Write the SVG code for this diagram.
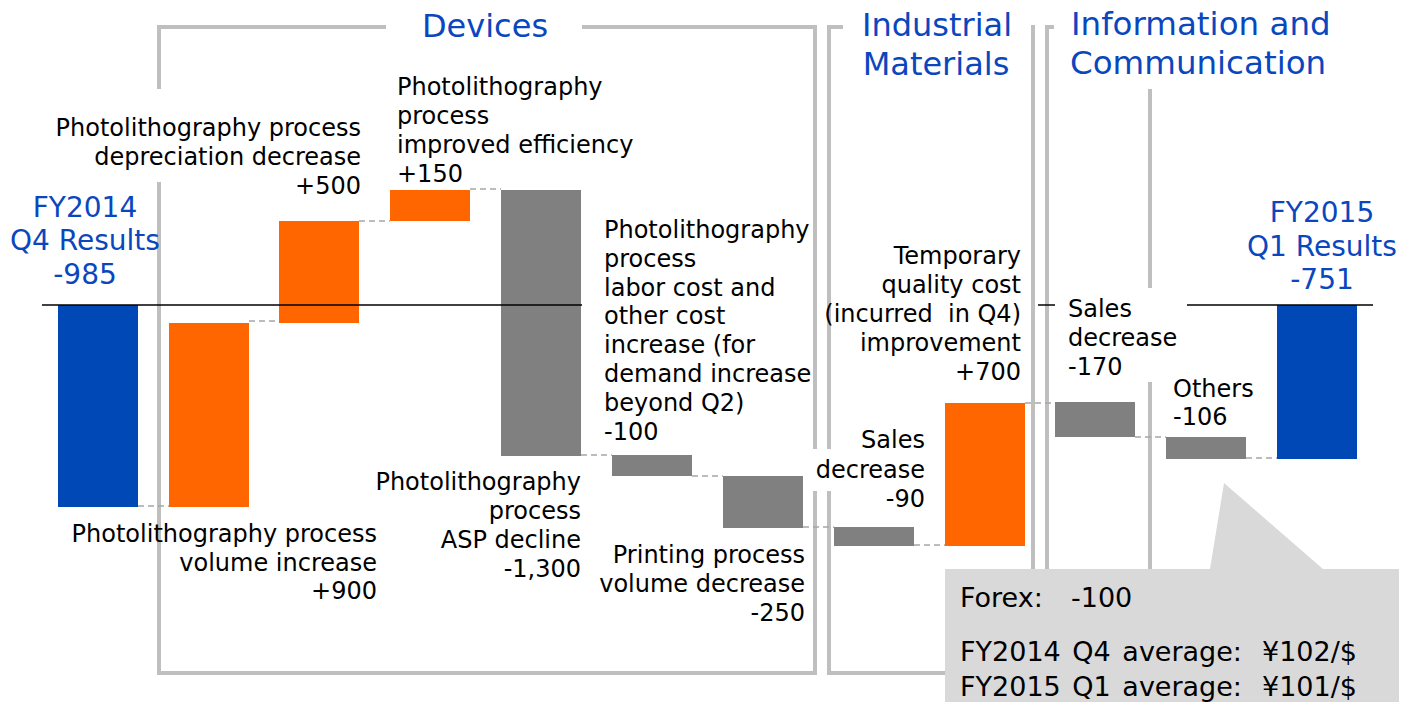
<svg xmlns="http://www.w3.org/2000/svg" width="1415" height="702" viewBox="0 0 1415 702">
<style>
text{font-family:'DejaVu Sans',Verdana,sans-serif;fill:#000;white-space:pre}
.t{font-size:24px}
.e{text-anchor:end}
.m{text-anchor:middle}
.h{font-size:32px;fill:#0A47BE}
.r{font-size:28px;fill:#0A47BE}
.c{font-size:27px}
.br{fill:none;stroke:#BFBFBF;stroke-width:4}
.dash{stroke:#A6A6A6;stroke-width:1.6;stroke-dasharray:6 4;fill:none}
.blue{fill:#0048B5}
.org{fill:#FF6600}
.gry{fill:#808080}
</style>
<rect width="1415" height="702" fill="#fff"/>
<g id="brackets">
<path class="br" d="M386,27 H159 V89"/>
<path class="br" d="M159,182 V673 H815 V491"/>
<path class="br" d="M815,449 V27 H582"/>
<path class="br" d="M843,27 H829 V449"/>
<path class="br" d="M829,491 V673 H945"/>
<path class="br" d="M1033,25 V569"/>
<path class="br" d="M1054,27 H1047 V569"/>
<path class="br" d="M1150,89 V288"/>
<path class="br" d="M1150,382 V569"/>
</g>
<g id="headings">
<text class="h m" x="485" y="37">Devices</text>
<text class="h m" x="937" y="36">Industrial</text>
<text class="h m" x="936" y="75">Materials</text>
<text class="h" x="1071" y="35" style="font-size:32.5px">Information and</text>
<text class="h" x="1070" y="74" style="font-size:32.5px">Communication</text>
</g>
<g id="bars">
<g id="fy2014"><rect class="blue" x="58" y="305" width="80" height="202"/>
<text class="r m" x="85" y="217">FY2014</text><text class="r m" x="85" y="250">Q4 Results</text><text class="r m" x="85" y="284">-985</text></g>
<g id="volume-increase"><rect class="org" x="169" y="323" width="80" height="184"/>
<text class="t e" x="377" y="542">Photolithography process</text><text class="t e" x="377" y="571">volume increase</text><text class="t e" x="377" y="599">+900</text></g>
<g id="depreciation"><rect class="org" x="279" y="221" width="80" height="102"/>
<text class="t e" x="361" y="136">Photolithography process</text><text class="t e" x="361" y="165">depreciation decrease</text><text class="t e" x="361" y="194">+500</text></g>
<g id="efficiency"><rect class="org" x="390" y="190" width="80" height="31"/>
<text class="t" x="397" y="95">Photolithography</text><text class="t" x="397" y="124">process</text><text class="t" x="397" y="153">improved efficiency</text><text class="t" x="397" y="182">+150</text></g>
<g id="asp-decline"><rect class="gry" x="501" y="190" width="80" height="266"/>
<text class="t e" x="581" y="490">Photolithography</text><text class="t e" x="581" y="519">process</text><text class="t e" x="581" y="548">ASP decline</text><text class="t e" x="581" y="577">-1,300</text></g>
<g id="labor-cost"><rect class="gry" x="612" y="455" width="80" height="21"/>
<text class="t" x="604" y="238">Photolithography</text><text class="t" x="604" y="267">process</text><text class="t" x="604" y="296">labor cost and</text><text class="t" x="604" y="324">other cost</text><text class="t" x="604" y="353">increase (for</text><text class="t" x="604" y="382">demand increase</text><text class="t" x="604" y="411">beyond Q2)</text><text class="t" x="604" y="440">-100</text></g>
<g id="printing"><rect class="gry" x="723" y="476" width="80" height="52"/>
<text class="t e" x="805" y="563">Printing process</text><text class="t e" x="805" y="592">volume decrease</text><text class="t e" x="805" y="621">-250</text></g>
<g id="im-sales"><rect class="gry" x="834" y="527" width="80" height="19"/>
<text class="t e" x="925" y="448">Sales</text><text class="t e" x="925" y="478">decrease</text><text class="t e" x="925" y="507">-90</text></g>
<g id="quality-cost"><rect class="org" x="945" y="403" width="80" height="143"/>
<text class="t e" x="1021" y="264">Temporary</text><text class="t e" x="1021" y="293">quality cost</text><text class="t e" x="1021" y="322">(incurred  in Q4)</text><text class="t e" x="1021" y="351">improvement</text><text class="t e" x="1021" y="380">+700</text></g>
<g id="ic-sales"><rect class="gry" x="1055" y="402" width="80" height="35"/>
<text class="t" x="1068" y="317">Sales</text><text class="t" x="1068" y="346">decrease</text><text class="t" x="1068" y="375">-170</text></g>
<g id="others"><rect class="gry" x="1166" y="437" width="80" height="22"/>
<text class="t" x="1173" y="397">Others</text><text class="t" x="1173" y="425">-106</text></g>
<g id="fy2015"><rect class="blue" x="1277" y="305" width="80" height="154"/>
<text class="r m" x="1322" y="222">FY2015</text><text class="r m" x="1322" y="256">Q1 Results</text><text class="r m" x="1322" y="289">-751</text></g>
</g>
<g id="baseline" stroke="#000" stroke-width="1.5">
<line x1="42" y1="305" x2="582" y2="305"/>
<line x1="1038" y1="305" x2="1055" y2="305"/>
<line x1="1187" y1="305" x2="1373" y2="305"/>
</g>
<g id="connectors">
<line class="dash" x1="138" y1="506" x2="169" y2="506"/>
<line class="dash" x1="249" y1="321" x2="279" y2="321"/>
<line class="dash" x1="359" y1="221" x2="390" y2="221"/>
<line class="dash" x1="470" y1="189" x2="501" y2="189"/>
<line class="dash" x1="581" y1="455" x2="612" y2="455"/>
<line class="dash" x1="692" y1="476" x2="723" y2="476"/>
<line class="dash" x1="803" y1="527" x2="834" y2="527"/>
<line class="dash" x1="914" y1="545" x2="945" y2="545"/>
<line class="dash" x1="1025" y1="403" x2="1055" y2="403"/>
<line class="dash" x1="1135" y1="437" x2="1166" y2="437"/>
<line class="dash" x1="1246" y1="458" x2="1277" y2="458"/>
</g>
<g id="forex-callout">
<path d="M945,569 H1210 L1224,483 L1323,569 H1399 V702 H945 Z" fill="#D9D9D9"/>
<text class="c" x="960" y="607">Forex:<tspan x="1071">-100</tspan></text>
<text class="c" x="960" y="661" word-spacing="3">FY2014 Q4 average:<tspan x="1262">¥102/$</tspan></text>
<text class="c" x="960" y="696" word-spacing="3">FY2015 Q1 average:<tspan x="1262">¥101/$</tspan></text>
</g>
</svg>
